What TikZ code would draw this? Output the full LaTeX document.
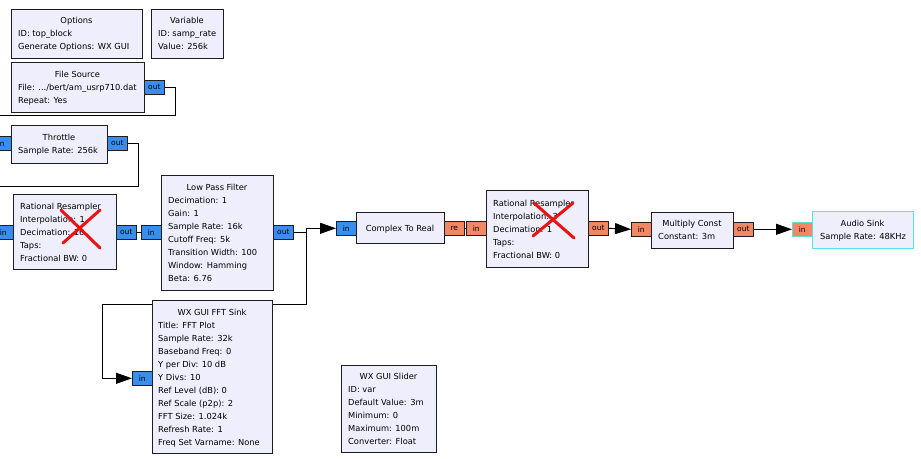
\documentclass[tikz,border=0pt]{standalone}
\usepackage{fontspec}
\setmainfont{DejaVu Sans}
\usetikzlibrary{arrows.meta}
\definecolor{blkfill}{RGB}{238,238,252}
\definecolor{bdr}{RGB}{30,30,30}
\definecolor{cblue}{RGB}{56,142,236}
\definecolor{forange}{RGB}{242,135,102}
\definecolor{selcyan}{RGB}{90,225,225}
\definecolor{xred}{RGB}{232,20,20}
\pgfdeclarelayer{bg}
\pgfdeclarelayer{paper}
\pgfsetlayers{paper,bg,main}
\newcommand\gparams[4]{\foreach \s [count=\i] in {#4} {\node[txt,anchor=base west] (#1-\i) at (#2,{#3+13*(\i-1)}) {\s};}}
\begin{document}
\begin{tikzpicture}[x=1pt,y=-1pt,
  blk/.style={draw=bdr,fill=blkfill,line width=0.8pt,inner sep=0pt,anchor=north west},
  txt/.style={inner sep=0pt,font=\fontsize{8.3}{10}\selectfont},
  port/.style={draw=bdr,line width=0.6pt,minimum width=20pt,minimum height=14pt,inner sep=0pt,anchor=north west,font=\fontsize{7.5}{9}\selectfont},
  cport/.style={port,fill=cblue},
  fport/.style={port,fill=forange},
  conn/.style={draw=black,line width=0.9pt},
  arr/.style={conn,-{Triangle[length=16pt,width=11pt]}},
  xmark/.style={draw=xred,line width=3pt,line cap=round}]
\useasboundingbox (0,0) rectangle (921,458);
\clip (0,0) rectangle (921,458);
\begin{pgfonlayer}{paper}
\fill[white] (0,0) rectangle (921,458);
\end{pgfonlayer}

% blocks
\node[blk,minimum width=131pt,minimum height=49pt] (opt) at (11,9) {};
\node[blk,minimum width=72pt,minimum height=49pt] (var) at (151,9) {};
\node[blk,minimum width=133pt,minimum height=50pt] (fs) at (11,62) {};
\node[blk,minimum width=96pt,minimum height=38pt] (thr) at (11,125) {};
\node[blk,minimum width=103pt,minimum height=75pt] (rr1) at (13,194) {};
\node[blk,minimum width=112pt,minimum height=115pt] (lpf) at (161,175) {};
\node[blk,minimum width=88pt,minimum height=31pt] (ctr) at (356,212) {};
\node[blk,minimum width=102pt,minimum height=77pt] (rr2) at (486,190) {};
\node[blk,minimum width=82pt,minimum height=36pt] (mul) at (651,212) {};
\node[blk,draw=selcyan,minimum width=101pt,minimum height=37pt] (aud) at (812,211) {};
\node[blk,minimum width=120pt,minimum height=153pt] (fft) at (152,300) {};
\node[blk,minimum width=95pt,minimum height=87pt] (sld) at (341,365) {};

% ports
\node[cport] (fsout) at (144,80) {out};
\node[cport] (thrin) at (-9,136) {in};
\node[cport] (throut) at (107,136) {out};
\node[cport] (rr1in) at (-7,225) {in};
\node[cport] (rr1out) at (116,225) {out};
\node[cport] (lpfin) at (141,225) {in};
\node[cport] (lpfout) at (273,225) {out};
\node[cport] (ctrin) at (336,221) {in};
\node[fport] (ctrre) at (444,221) {re};
\node[fport] (rr2in) at (466,221) {in};
\node[fport] (rr2out) at (588,221) {out};
\node[fport] (mulin) at (631,222) {in};
\node[fport] (mulout) at (733,222) {out};
\node[fport,draw=selcyan] (audin) at (792,222) {in};
\node[cport] (fftin) at (132,371) {in};

% texts
\node[txt,anchor=base] (opt-t) at (76.5,23) {Options};
\gparams{opt}{18}{36}{ID: top\_block, Generate Options: WX GUI}
\node[txt,anchor=base] (var-t) at (187,23) {Variable};
\gparams{var}{158}{36}{ID: samp\_rate, Value: 256k}
\node[txt,anchor=base] (fs-t) at (77.5,77) {File Source};
\node[txt,anchor=base west] (fs-1) at (18,90) {File: .../bert/am\_usrp710.dat};
\node[txt,anchor=base west] (fs-2) at (18,103) {Repeat: Yes};
\node[txt,anchor=base] (thr-t) at (59,140) {Throttle};
\gparams{thr}{18}{153}{Sample Rate: 256k}
\gparams{rr1}{20}{209}{Rational Resampler, Interpolation: 1, Decimation: 16, Taps:, Fractional BW: 0}
\node[txt,anchor=base] (lpf-t) at (217,190) {Low Pass Filter};
\gparams{lpf}{168}{203}{Decimation: 1, Gain: 1, Sample Rate: 16k, Cutoff Freq: 5k, Transition Width: 100, Window: Hamming, Beta: 6.76}
\node[txt,anchor=base] (ctr-t) at (400,231) {Complex To Real};
\gparams{rr2}{493}{206}{Rational Resampler, Interpolation: 3, Decimation: 1, Taps:, Fractional BW: 0}
\node[txt,anchor=base] (mul-t) at (692,226) {Multiply Const};
\gparams{mul}{658}{239}{Constant: 3m}
\node[txt,anchor=base] (aud-t) at (862.5,226) {Audio Sink};
\gparams{aud}{820}{239}{Sample Rate: 48KHz}
\node[txt,anchor=base] (fft-t) at (212,315) {WX GUI FFT Sink};
\gparams{fft}{158}{328}{Title: FFT Plot, Sample Rate: 32k, Baseband Freq: 0, Y per Div: 10 dB, Y Divs: 10, Ref Level (dB): 0, Ref Scale (p2p): 2, FFT Size: 1.024k, Refresh Rate: 1, Freq Set Varname: None}
\node[txt,anchor=base] (sld-t) at (388.5,379) {WX GUI Slider};
\gparams{sld}{348}{392}{ID: var, Default Value: 3m, Minimum: 0, Maximum: 100m, Converter: Float}

% connectors
\coordinate (a1) at (-20,115);
\coordinate (a2) at (-20,186);
\coordinate (k1) at (102,304);
\begin{pgfonlayer}{bg}
\draw[arr] (fsout.east) -- ++(11,0) |- (a1) |- (thrin.west);
\draw[arr] (throut.east) -- ++(11,0) |- (a2) |- (rr1in.west);
\draw[conn] (rr1out.east) -- (lpfin.west);
\draw[arr] (lpfout.east) -- ++(13,0) |- (ctrin.west);
\draw[arr] (lpfout.east) -- ++(13,0) |- (k1) |- (fftin.west);
\draw[conn] (ctrre.east) -- (rr2in.west);
\draw[arr] (rr2out.east) -- (mulin.west);
\draw[arr] (mulout.east) -- (audin.west);
\end{pgfonlayer}

% disabled marks
\draw[xmark] (61,210) -- (100,248);
\draw[xmark] (100,210) -- (63,243);
\draw[xmark] (534,203) -- (574,238);
\draw[xmark] (573,203) -- (533,236);
\end{tikzpicture}
\end{document}
